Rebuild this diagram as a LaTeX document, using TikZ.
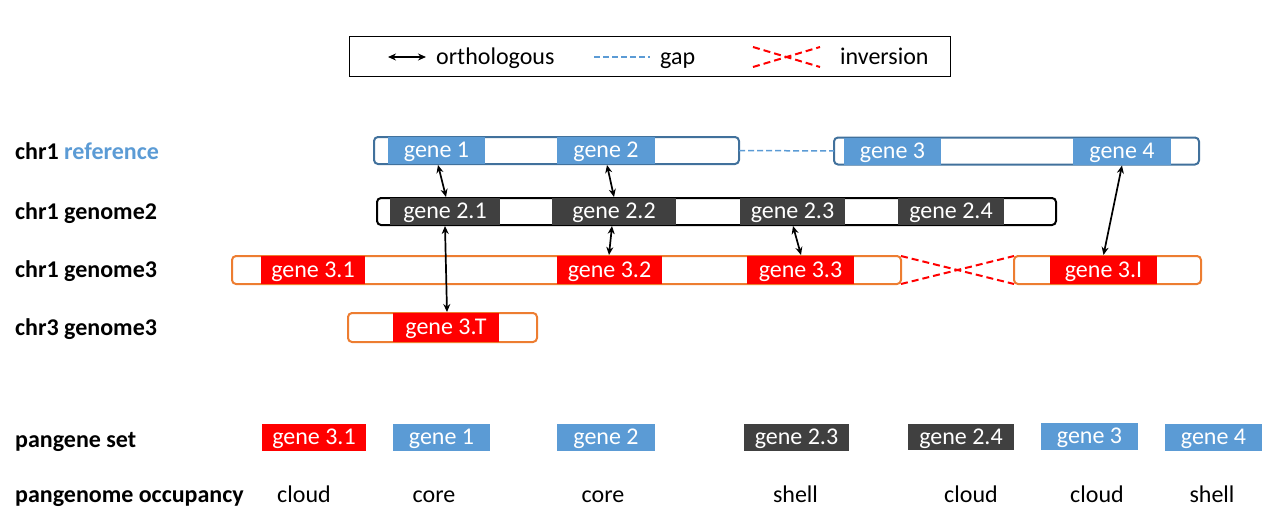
\documentclass[tikz,border=0pt]{standalone}
\usepackage{fontspec}
\setmainfont{Carlito}
\usetikzlibrary{arrows.meta}
\definecolor{gblue}{HTML}{5B9BD5}
\definecolor{bblue}{HTML}{41719C}
\definecolor{gdark}{HTML}{404040}
\definecolor{gorange}{HTML}{ED7D31}
\definecolor{gred}{HTML}{FF0000}
\begin{document}
\begin{tikzpicture}[x=1pt,y=-1pt,font=\fontsize{24}{28}\selectfont,
  chrbox/.style={draw, rounded corners=4pt, line width=2pt, fill=white, inner sep=0pt, outer sep=0pt},
  gene/.style={text=white, inner sep=0pt, outer sep=0pt, text height=16pt, text depth=2pt},
  lbl/.style={anchor=base west, font=\fontsize{24}{28}\selectfont\bfseries, inner sep=0pt},
  occ/.style={anchor=base, inner sep=0pt},
  ltxt/.style={anchor=base west, inner sep=0pt},
  ortho/.style={{Stealth[length=8pt,width=7pt]}-{Stealth[length=8pt,width=7pt]}, line width=1.7pt, black},
  gapline/.style={gblue, line width=1.5pt, dash pattern=on 6pt off 3pt},
  invline/.style={gred, line width=2pt, dash pattern=on 7pt off 4pt}]
\useasboundingbox (0,0) rectangle (1271,519);

% legend
\node[draw, line width=1pt, minimum width=601pt, minimum height=39pt, inner sep=0pt] (legend) at (649.5,56.5) {};
\coordinate (la1) at (388,57);
\coordinate (la2) at (426,57);
\draw[ortho] (la1) -- (la2);
\node[ltxt] (lt1) at (436,64) {orthologous};
\coordinate (lg1) at (594,57);
\coordinate (lg2) at (650,57);
\draw[gapline] (lg1) -- (lg2);
\node[ltxt] (lt2) at (660,64) {gap};
\coordinate (li1) at (753,47);
\coordinate (li2) at (820,67);
\coordinate (li3) at (753,67);
\coordinate (li4) at (820,47);
\draw[invline] (li1) -- (li2);
\draw[invline] (li3) -- (li4);
\node[ltxt] (lt3) at (840,64) {inversion};

% row labels
\node[lbl] (r1) at (15,159) {chr1 \textcolor{gblue}{reference}};
\node[lbl] (r2) at (15,219) {chr1 genome2};
\node[lbl] (r3) at (15,277) {chr1 genome3};
\node[lbl] (r4) at (15,335) {chr3 genome3};
\node[lbl] (r5) at (15,447) {pangene set};
\node[lbl] (r6) at (15,502) {pangenome occupancy};

% chromosome boxes
\node[chrbox, draw=bblue, minimum width=365pt, minimum height=27pt] (refA) at (556.5,150.5) {};
\node[chrbox, draw=bblue, minimum width=365pt, minimum height=27pt] (refB) at (1016.5,151) {};
\node[chrbox, draw=black, minimum width=679pt, minimum height=27pt] (g2chr) at (716.5,211.5) {};
\node[chrbox, draw=gorange, minimum width=669pt, minimum height=28pt] (g3A) at (566.5,270) {};
\node[chrbox, draw=gorange, minimum width=187pt, minimum height=28pt] (g3B) at (1107.5,270) {};
\node[chrbox, draw=gorange, minimum width=189pt, minimum height=29pt] (g3C) at (442.5,327.5) {};

% genes reference
\node[gene, fill=gblue, minimum width=97pt, minimum height=27pt] (g1) at (436.5,150.5) {gene 1};
\node[gene, fill=gblue, minimum width=98pt, minimum height=27pt] (g2) at (606,150.5) {gene 2};
\node[gene, fill=gblue, minimum width=97pt, minimum height=27pt] (g3) at (892.5,151) {gene 3};
\node[gene, fill=gblue, minimum width=98pt, minimum height=27pt] (g4) at (1122,151) {gene 4};
% genes genome2
\node[gene, fill=gdark, minimum width=110pt, minimum height=27pt] (g21) at (445,211.5) {gene 2.1};
\node[gene, fill=gdark, minimum width=124pt, minimum height=27pt] (g22) at (614,211.5) {gene 2.2};
\node[gene, fill=gdark, minimum width=105pt, minimum height=27pt] (g23) at (792.5,211.5) {gene 2.3};
\node[gene, fill=gdark, minimum width=106pt, minimum height=27pt] (g24) at (951,211.5) {gene 2.4};
% genes genome3
\node[gene, fill=gred, minimum width=104pt, minimum height=28pt] (g31) at (313,270) {gene 3.1};
\node[gene, fill=gred, minimum width=105pt, minimum height=28pt] (g32) at (609.5,270) {gene 3.2};
\node[gene, fill=gred, minimum width=107pt, minimum height=28pt] (g33) at (800.5,270) {gene 3.3};
\node[gene, fill=gred, minimum width=107pt, minimum height=28pt] (g3I) at (1103.5,270) {gene 3.I};
\node[gene, fill=gred, minimum width=106pt, minimum height=29pt] (g3T) at (446,327.5) {gene 3.T};

% gap and inversion
\draw[gapline] (refA.east) -- (refB.west);
\draw[invline] (g3A.north east) -- (g3B.south west);
\draw[invline] (g3A.south east) -- (g3B.north west);

% orthologous arrows
\draw[ortho] ([xshift=1.5pt,yshift=-1pt]g1.south) -- ([xshift=1pt,yshift=1pt]g21.north);
\draw[ortho] ([xshift=1pt,yshift=-1pt]g2.south) -- ([xshift=0pt,yshift=1pt]g22.north);
\draw[ortho] ([yshift=-1pt]g21.south) -- ([xshift=1pt,yshift=1pt]g3T.north);
\draw[ortho] ([xshift=-2pt,yshift=-1pt]g22.south) -- ([xshift=-0.5pt,yshift=1pt]g32.north);
\draw[ortho] ([xshift=0.5pt,yshift=-1pt]g23.south) -- ([xshift=0.5pt,yshift=1pt]g33.north);
\draw[ortho] ([yshift=-1pt]g4.south) -- ([yshift=1pt]g3I.north);

% pangene set
\node[gene, fill=gred, minimum width=104pt, minimum height=27pt] (p31) at (314,437.5) {gene 3.1};
\node[gene, fill=gblue, minimum width=97pt, minimum height=27pt] (p1) at (441.5,437.5) {gene 1};
\node[gene, fill=gblue, minimum width=98pt, minimum height=27pt] (p2) at (606,437.5) {gene 2};
\node[gene, fill=gdark, minimum width=105pt, minimum height=27pt] (p23) at (796.5,437.5) {gene 2.3};
\node[gene, fill=gdark, minimum width=106pt, minimum height=26pt] (p24) at (961,437) {gene 2.4};
\node[gene, fill=gblue, minimum width=97pt, minimum height=27pt] (p3) at (1089.5,436.5) {gene 3};
\node[gene, fill=gblue, minimum width=97pt, minimum height=27pt] (p4) at (1213.5,437.5) {gene 4};

% occupancy
\node[occ] (o1) at (304,502) {cloud};
\node[occ] (o2) at (434,502) {core};
\node[occ] (o3) at (603,502) {core};
\node[occ] (o4) at (795.5,502) {shell};
\node[occ] (o5) at (971,502) {cloud};
\node[occ] (o6) at (1097,502) {cloud};
\node[occ] (o7) at (1212,502) {shell};
\end{tikzpicture}
\end{document}
